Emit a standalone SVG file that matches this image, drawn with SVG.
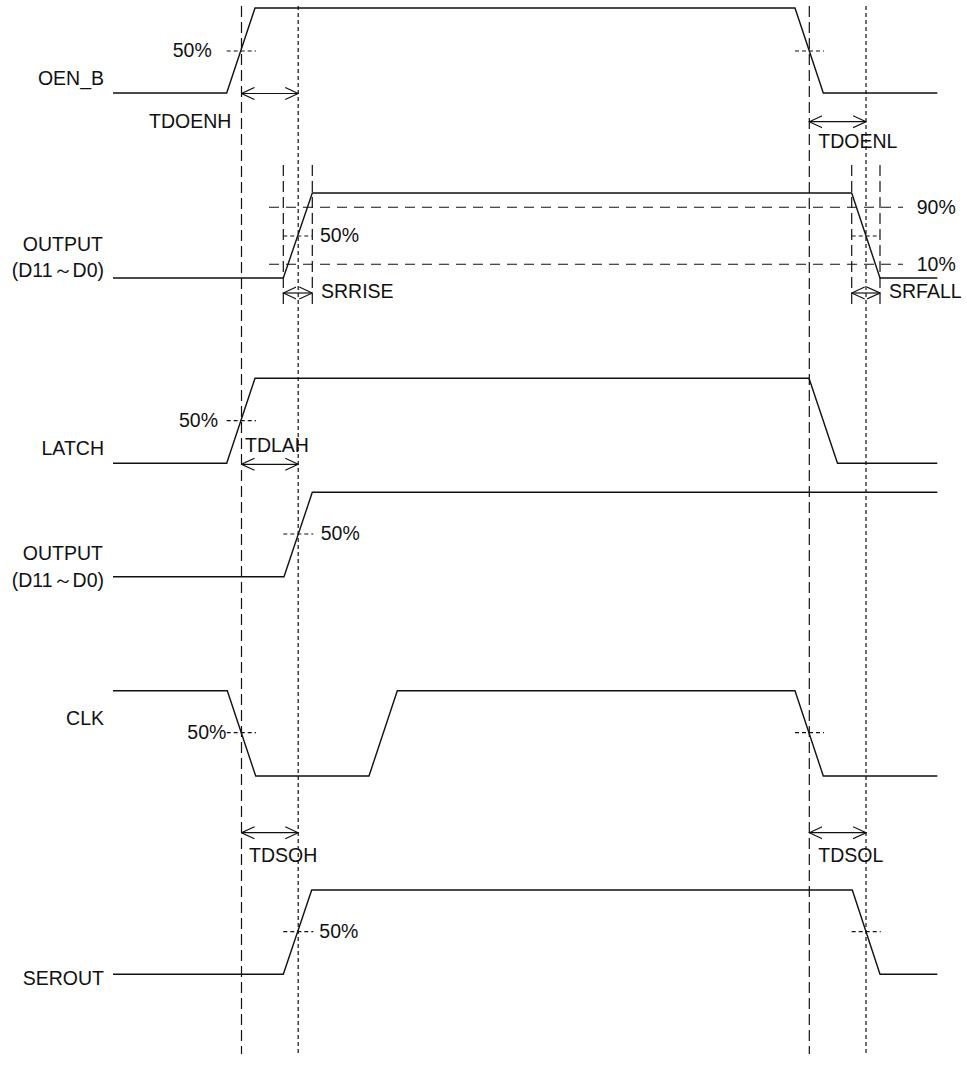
<svg xmlns="http://www.w3.org/2000/svg" width="967" height="1075" viewBox="0 0 967 1075">
<style>
text{font-family:"Liberation Sans",Arial,sans-serif;font-size:19.5px;fill:#111}
.lbl{text-anchor:end}
.sig{fill:none;stroke:#111;stroke-width:1.4}
.ld{fill:none;stroke:#111;stroke-width:1.2;stroke-dasharray:11 5}
.sd{fill:none;stroke:#111;stroke-width:1.2;stroke-dasharray:4 3}
.hd{fill:none;stroke:#111;stroke-width:1.1;stroke-dasharray:10 7}
.dim{fill:none;stroke:#111;stroke-width:1.2}
</style>
<defs>
<marker id="ah" viewBox="0 0 14 14" refX="13" refY="7" markerWidth="14" markerHeight="14" markerUnits="userSpaceOnUse" orient="auto-start-reverse">
<path d="M0,1 L13,7 L0,13" fill="none" stroke="#111" stroke-width="1.2"/>
</marker>
</defs>
<g id="guides">
<line class="ld" x1="241.5" y1="6" x2="241.5" y2="1054"/>
<line class="sd" x1="298.2" y1="6" x2="298.2" y2="1054"/>
<line class="ld" x1="809.3" y1="6" x2="809.3" y2="1054"/>
<line class="sd" x1="866" y1="6" x2="866" y2="1054"/>
</g>
<g id="oen_b">
<text class="lbl" x="104" y="85">OEN_B</text>
<polyline class="sig" points="113,93 226.7,93 255,8 795,8 823.3,93 937.3,93"/>
<line class="sd" x1="226.7" y1="51" x2="256" y2="51"/>
<line class="sd" x1="795" y1="51" x2="824" y2="51"/>
<text x="172.7" y="57">50%</text>
</g>
<g id="output1">
<text class="lbl" x="103" y="251">OUTPUT</text>
<text class="lbl" x="104" y="277">(D11～D0)</text>
<polyline class="sig" points="113,278 283.3,278 312.3,193 851.7,193 880,278 937.3,278"/>
<line class="hd" x1="269" y1="207.3" x2="903" y2="207.3"/>
<line class="hd" x1="269" y1="264.3" x2="903" y2="264.3"/>
<line class="ld" x1="283.3" y1="165" x2="283.3" y2="307"/>
<line class="ld" x1="312.3" y1="165" x2="312.3" y2="307"/>
<line class="ld" x1="851.7" y1="165" x2="851.7" y2="307"/>
<line class="ld" x1="880" y1="165" x2="880" y2="307"/>
<line class="sd" x1="283.3" y1="236" x2="312.3" y2="236"/>
<line class="sd" x1="851.7" y1="236" x2="880" y2="236"/>
<text x="320" y="242">50%</text>
<text x="916.7" y="214">90%</text>
<text x="916.7" y="271">10%</text>
</g>
<g id="latch">
<text class="lbl" x="104" y="455">LATCH</text>
<polyline class="sig" points="113,463.3 226.7,463.3 255,378.3 809,378.3 837.5,463.3 937.3,463.3"/>
<line class="sd" x1="226.7" y1="420.7" x2="256" y2="420.7"/>
<text x="179" y="427">50%</text>
</g>
<g id="output2">
<text class="lbl" x="103" y="560">OUTPUT</text>
<text class="lbl" x="104" y="587">(D11～D0)</text>
<polyline class="sig" points="113,576.7 284,576.7 312.3,492.3 937.3,492.3"/>
<line class="sd" x1="283.3" y1="534" x2="313.3" y2="534"/>
<text x="320.7" y="540">50%</text>
</g>
<g id="clk">
<text class="lbl" x="104" y="725">CLK</text>
<polyline class="sig" points="113,690.7 227.3,690.7 255.7,776 369,776 397.3,690.7 795,690.7 823.3,776 937.3,776"/>
<line class="sd" x1="226.7" y1="732.7" x2="256" y2="732.7"/>
<line class="sd" x1="795" y1="732.7" x2="824" y2="732.7"/>
<text x="187.3" y="739.3">50%</text>
</g>
<g id="serout">
<text class="lbl" x="104" y="985">SEROUT</text>
<polyline class="sig" points="113,974.3 283.3,974.3 311.7,890 852.3,890 880,974.3 937.3,974.3"/>
<line class="sd" x1="283.3" y1="931.7" x2="313.3" y2="931.7"/>
<line class="sd" x1="851.7" y1="931.7" x2="880.7" y2="931.7"/>
<text x="319.3" y="938.3">50%</text>
</g>
<g id="connectors">
<line class="dim" x1="241.5" y1="93.5" x2="298.2" y2="93.5" marker-start="url(#ah)" marker-end="url(#ah)"/>
<line class="dim" x1="809.3" y1="121.7" x2="866" y2="121.7" marker-start="url(#ah)" marker-end="url(#ah)"/>
<line class="dim" x1="283.3" y1="293" x2="312.3" y2="293" marker-start="url(#ah)" marker-end="url(#ah)"/>
<line class="dim" x1="851.7" y1="293" x2="880" y2="293" marker-start="url(#ah)" marker-end="url(#ah)"/>
<line class="dim" x1="241.5" y1="464.3" x2="298.2" y2="464.3" marker-start="url(#ah)" marker-end="url(#ah)"/>
<line class="dim" x1="241.5" y1="832.7" x2="298.2" y2="832.7" marker-start="url(#ah)" marker-end="url(#ah)"/>
<line class="dim" x1="809.3" y1="832.7" x2="866" y2="832.7" marker-start="url(#ah)" marker-end="url(#ah)"/>
</g>
<g id="dim-labels">
<text x="149" y="128">TDOENH</text>
<text x="818.3" y="148">TDOENL</text>
<text x="321" y="298">SRRISE</text>
<text x="889" y="298">SRFALL</text>
<text x="245" y="451.7">TDLAH</text>
<text x="249" y="861.7">TDSOH</text>
<text x="818.3" y="861.7">TDSOL</text>
</g>
</svg>
